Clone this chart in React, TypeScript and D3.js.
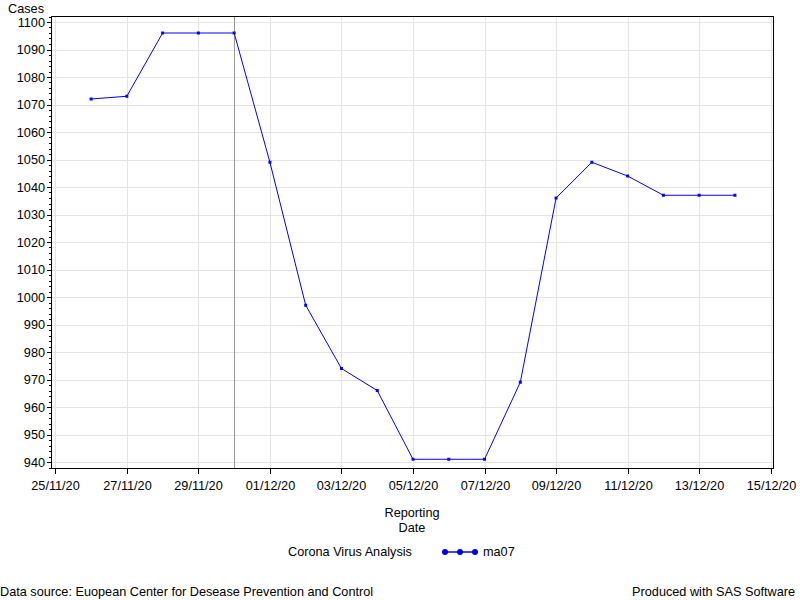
import React from "react";
import * as d3 from "d3";

const dates: string[] = [
  "2020-11-26", "2020-11-27", "2020-11-28", "2020-11-29", "2020-11-30",
  "2020-12-01", "2020-12-02", "2020-12-03", "2020-12-04", "2020-12-05",
  "2020-12-06", "2020-12-07", "2020-12-08", "2020-12-09", "2020-12-10",
  "2020-12-11", "2020-12-12", "2020-12-13", "2020-12-14",
];
const ma07: number[] = [
  1072, 1073, 1096, 1096, 1096, 1049, 997, 974, 966, 941,
  941, 941, 969, 1036, 1049, 1044, 1037, 1037, 1037,
];
const yTicks: number[] = [940, 950, 960, 970, 980, 990, 1000, 1010, 1020, 1030, 1040, 1050, 1060, 1070, 1080, 1090, 1100];
const xTickDates: string[] = [
  "2020-11-25", "2020-11-27", "2020-11-29", "2020-12-01", "2020-12-03",
  "2020-12-05", "2020-12-07", "2020-12-09", "2020-12-11", "2020-12-13", "2020-12-15",
];
const refDate = "2020-11-30";
const yLabel = "Cases";
const xLabel1 = "Reporting";
const xLabel2 = "Date";
const legendTitle = "Corona Virus Analysis";
const seriesName = "ma07";
const footLeft = "Data source: Euopean Center for Desease Prevention and Control";
const footRight = "Produced with SAS Software";

const parse = d3.utcParse("%Y-%m-%d");
const fmt = d3.utcFormat("%d/%m/%y");

export default function App() {
  const L = 51, R = 773, T = 16, B = 468;
  const x = d3.scaleUtc()
    .domain([parse("2020-11-25")!, parse("2020-12-15")!])
    .range([55.3, 770.7]);
  const y = d3.scaleLinear().domain([940, 1100]).range([462, 22]);
  const data = dates.map((d, i) => ({ d: parse(d)!, v: ma07[i] }));
  const line = d3.line<{ d: Date; v: number }>().x(p => x(p.d)).y(p => y(p.v));
  const minor: number[] = [];
  for (let v = 938; v <= 1102; v += 2) if (v % 10 !== 0) minor.push(v);
  const font = "'Liberation Sans', Arial, sans-serif";
  const blue = "#0000ff";
  return (
    <svg width={800} height={600} style={{ position: "absolute", left: 0, top: 0, background: "#fff" }}
      fontFamily={font} fontSize={12.7}>
      <rect x={0} y={0} width={800} height={600} fill="#fff" />
      {yTicks.map(t => (
        <line key={"gy" + t} x1={L} x2={R} y1={Math.round(y(t)) + 0.5} y2={Math.round(y(t)) + 0.5} stroke="#e4e4e4" />
      ))}
      {xTickDates.map(t => (
        <line key={"gx" + t} x1={Math.round(x(parse(t)!)) + 0.5} x2={Math.round(x(parse(t)!)) + 0.5} y1={T} y2={B} stroke="#e4e4e4" />
      ))}
      <line x1={Math.round(x(parse(refDate)!)) + 0.5} x2={Math.round(x(parse(refDate)!)) + 0.5} y1={T} y2={B} stroke="#999" />
      <path d={line(data) || ""} fill="none" stroke={blue} strokeWidth={1} />
      {data.map((p, i) => (
        <rect key={"m" + i} x={x(p.d) - 1.5} y={y(p.v) - 1.5} width={3} height={3} fill={blue} />
      ))}
      <rect x={L + 0.5} y={T + 0.5} width={R - L} height={B - T} fill="none" stroke="#000" />
      {yTicks.map(t => (
        <g key={"ty" + t}>
          <line x1={L - 4} x2={L} y1={Math.round(y(t)) + 0.5} y2={Math.round(y(t)) + 0.5} stroke="#000" />
          <text x={45} y={y(t) + 4.5} textAnchor="end">{t}</text>
        </g>
      ))}
      {minor.map(t => (
        <line key={"my" + t} x1={L - 2} x2={L} y1={Math.round(y(t)) + 0.5} y2={Math.round(y(t)) + 0.5} stroke="#000" />
      ))}
      {xTickDates.map(t => {
        const xx = Math.round(x(parse(t)!)) + 0.5;
        return (
          <g key={"tx" + t}>
            <line x1={xx} x2={xx} y1={B} y2={B + 6} stroke="#000" />
            <text x={xx} y={490} textAnchor="middle">{fmt(parse(t)!)}</text>
          </g>
        );
      })}
      <text x={44} y={13} textAnchor="end">{yLabel}</text>
      <text x={412} y={517} textAnchor="middle">{xLabel1}</text>
      <text x={412} y={532} textAnchor="middle">{xLabel2}</text>
      <text x={288} y={556}>{legendTitle}</text>
      <line x1={445} x2={475} y1={552} y2={552} stroke={blue} strokeWidth={1.5} />
      {[445, 460, 475].map(cx => (
        <circle key={"lg" + cx} cx={cx} cy={552} r={3} fill={blue} />
      ))}
      <text x={483} y={556}>{seriesName}</text>
      <text x={0} y={596}>{footLeft}</text>
      <text x={795} y={596} textAnchor="end">{footRight}</text>
    </svg>
  );
}
